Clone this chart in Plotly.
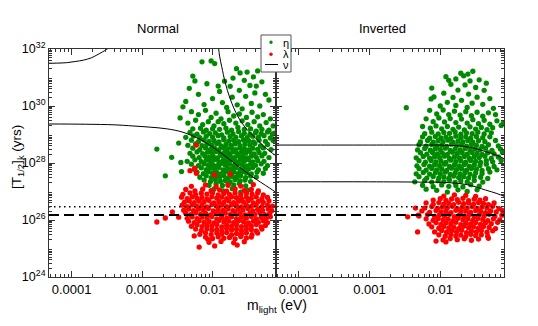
import numpy as np
import plotly.graph_objects as go

# ---------------- data (log10 m_light [eV], log10 T_1/2 [yrs]) ----------------
normal_eta = [
(-2.02,31.58),(-1.97,31.49),(-2.15,31.55),(-1.51,31.19),(-1.61,31.16),(-1.71,30.98),(-1.42,31.02),(-2.28,31.05),(-1.66,31.31),(-1.36,31.23),
(-1.55,30.90),(-1.83,30.87),(-1.47,30.72),(-1.75,30.69),(-2.08,30.78),(-2.33,30.62),(-1.30,30.85),(-1.62,30.55),(-1.90,30.51),(-2.20,30.41),
(-1.40,30.46),(-1.53,30.34),(-2.00,30.26),(-1.72,30.31),(-2.38,30.16),(-1.25,30.41),(-1.86,30.12),(-1.45,30.09),(-2.12,30.05),(-1.65,30.04),
(-1.33,30.00),(-2.42,29.97),(-1.20,30.21),(-1.58,29.90),(-1.80,29.95),(-1.92,30.70),(-1.38,30.70),(-2.25,30.88),
(-2.46,29.58),(-2.30,29.80),(-2.20,29.70),(-2.10,29.85),(-2.02,29.60),(-1.95,29.75),(-1.88,29.55),(-1.78,29.80),(-1.70,29.65),(-1.62,29.72),
(-1.52,29.60),(-1.44,29.78),(-1.36,29.62),(-1.28,29.70),(-1.18,29.55),(-2.35,29.40),(-2.24,29.50),(-2.14,29.35),(-2.06,29.45),(-1.98,29.30),
(-1.92,29.45),(-1.84,29.38),(-1.76,29.50),(-1.67,29.40),(-1.58,29.48),(-1.50,29.35),(-1.41,29.45),(-1.33,29.30),(-1.24,29.42),(-1.14,29.30),
(-2.28,29.20),(-2.17,29.22),(-2.09,29.15),(-2.00,29.20),(-1.90,29.18),(-1.81,29.22),(-1.73,29.15),(-1.64,29.25),(-1.55,29.18),(-1.46,29.20),
(-1.38,29.12),(-1.30,29.18),(-1.20,29.15),(-1.12,29.05),
(-2.32,29.07),(-2.22,29.01),(-2.13,29.09),(-2.04,29.03),(-1.96,29.06),(-1.87,28.99),(-1.79,29.08),(-1.71,29.02),(-1.63,29.10),(-1.55,29.04),
(-1.47,29.00),(-1.39,29.07),(-1.31,29.03),(-1.22,29.09),(-1.15,29.01),
(-2.38,28.90),(-2.27,28.95),(-2.18,28.89),(-2.09,28.94),(-2.00,28.91),(-1.92,28.96),(-1.84,28.88),(-1.75,28.93),(-1.67,28.90),(-1.59,28.95),
(-1.51,28.89),(-1.43,28.94),(-1.35,28.91),(-1.27,28.96),(-1.18,28.88),
(-2.30,28.80),(-2.20,28.75),(-2.12,28.81),(-2.05,28.76),(-1.98,28.79),(-1.91,28.74),(-1.84,28.82),(-1.77,28.77),(-1.70,28.80),(-1.63,28.75),
(-1.56,28.81),(-1.49,28.78),(-1.42,28.74),(-1.34,28.80),(-1.25,28.76),(-1.14,28.79),
(-2.35,28.62),(-2.24,28.67),(-2.15,28.61),(-2.08,28.66),(-2.01,28.63),(-1.94,28.68),(-1.88,28.60),(-1.81,28.65),(-1.74,28.62),(-1.68,28.67),
(-1.61,28.61),(-1.54,28.66),(-1.47,28.63),(-1.40,28.68),(-1.32,28.60),(-1.22,28.65),
(-2.28,28.52),(-2.18,28.47),(-2.10,28.53),(-2.03,28.48),(-1.97,28.51),(-1.91,28.46),(-1.85,28.54),(-1.79,28.49),(-1.73,28.52),(-1.67,28.47),
(-1.61,28.53),(-1.55,28.50),(-1.49,28.46),(-1.43,28.52),(-1.36,28.48),(-1.28,28.53),(-1.17,28.47),
(-2.32,28.34),(-2.22,28.39),(-2.14,28.33),(-2.07,28.38),(-2.01,28.35),(-1.95,28.40),(-1.89,28.32),(-1.83,28.37),(-1.77,28.34),(-1.71,28.39),
(-1.65,28.33),(-1.59,28.38),(-1.53,28.35),(-1.47,28.40),(-1.41,28.32),(-1.34,28.37),(-1.26,28.34),
(-2.28,28.24),(-2.19,28.19),(-2.11,28.25),(-2.05,28.20),(-1.99,28.23),(-1.93,28.18),(-1.87,28.26),(-1.81,28.21),(-1.75,28.24),(-1.69,28.19),
(-1.63,28.25),(-1.57,28.22),(-1.51,28.18),(-1.45,28.24),(-1.38,28.20),(-1.30,28.25),(-1.20,28.19),
(-2.36,28.06),(-2.25,28.11),(-2.16,28.05),(-2.09,28.10),(-2.03,28.07),(-1.97,28.12),(-1.91,28.04),(-1.85,28.09),(-1.79,28.06),(-1.73,28.11),
(-1.67,28.05),(-1.61,28.10),(-1.55,28.07),(-1.49,28.12),(-1.43,28.04),(-1.36,28.09),(-1.27,28.06),
(-2.30,27.96),(-2.20,27.91),(-2.12,27.97),(-2.06,27.92),(-2.00,27.95),(-1.94,27.90),(-1.88,27.98),(-1.82,27.93),(-1.76,27.96),(-1.70,27.91),
(-1.64,27.97),(-1.58,27.94),(-1.52,27.90),(-1.46,27.96),(-1.39,27.92),(-1.31,27.97),(-1.22,27.91),
(-2.26,27.78),(-2.16,27.83),(-2.09,27.77),(-2.03,27.82),(-1.97,27.79),(-1.91,27.84),(-1.85,27.76),(-1.79,27.81),(-1.73,27.78),(-1.67,27.83),
(-1.61,27.77),(-1.55,27.82),(-1.49,27.79),(-1.43,27.84),(-1.35,27.76),(-1.25,27.81),
(-2.22,27.68),(-2.13,27.63),(-2.06,27.69),(-2.00,27.64),(-1.94,27.67),(-1.88,27.62),(-1.82,27.70),(-1.76,27.65),(-1.70,27.68),(-1.64,27.63),
(-1.58,27.69),(-1.52,27.66),(-1.45,27.62),(-1.37,27.68),(-1.28,27.64),
(-2.18,27.50),(-2.09,27.55),(-2.02,27.49),(-1.96,27.54),(-1.90,27.51),(-1.84,27.56),(-1.78,27.48),(-1.72,27.53),(-1.66,27.50),(-1.60,27.55),
(-1.53,27.49),(-1.46,27.54),(-1.38,27.51),
(-2.12,27.40),(-2.03,27.35),(-1.96,27.41),(-1.89,27.36),(-1.82,27.39),(-1.75,27.34),(-1.68,27.42),(-1.61,27.37),(-1.54,27.40),(-1.46,27.35),
(-2.05,27.22),(-1.95,27.27),(-1.86,27.21),(-1.78,27.26),(-1.70,27.23),(-1.62,27.28),(-1.53,27.20),
(-1.98,27.08),(-1.85,27.02),(-1.72,27.10),(-1.60,26.98),(-1.50,27.05),
(-2.79,28.49),(-2.67,27.55),(-2.58,28.20),(-2.45,28.02),(-2.48,28.70),(-2.44,27.70),
]

normal_lambda = [
(-2.30,27.18),(-2.10,27.23),(-1.95,27.17),(-1.78,27.22),(-1.60,27.19),(-1.42,27.24),
(-2.38,27.07),(-2.25,27.02),(-2.14,27.08),(-2.02,27.03),(-1.90,27.06),(-1.80,27.01),(-1.68,27.09),(-1.55,27.04),(-1.45,27.07),(-1.35,27.02),
(-2.42,26.90),(-2.32,26.95),(-2.24,26.89),(-2.16,26.94),(-2.08,26.91),(-2.00,26.96),(-1.92,26.88),(-1.84,26.93),(-1.76,26.90),(-1.68,26.95),
(-1.60,26.89),(-1.52,26.94),(-1.44,26.91),(-1.36,26.96),(-1.28,26.88),
(-2.44,26.80),(-2.36,26.75),(-2.29,26.81),(-2.22,26.76),(-2.15,26.79),(-2.08,26.74),(-2.01,26.82),(-1.94,26.77),(-1.87,26.80),(-1.80,26.75),
(-1.73,26.81),(-1.66,26.78),(-1.59,26.74),(-1.52,26.80),(-1.45,26.76),(-1.38,26.81),(-1.30,26.75),(-1.22,26.79),
(-2.40,26.62),(-2.33,26.67),(-2.26,26.61),(-2.19,26.66),(-2.12,26.63),(-2.05,26.68),(-1.98,26.60),(-1.91,26.65),(-1.84,26.62),(-1.77,26.67),
(-1.70,26.61),(-1.63,26.66),(-1.56,26.63),(-1.49,26.68),(-1.42,26.60),(-1.35,26.65),(-1.28,26.62),(-1.20,26.67),
(-2.43,26.52),(-2.36,26.47),(-2.29,26.53),(-2.22,26.48),(-2.15,26.51),(-2.08,26.46),(-2.01,26.54),(-1.94,26.49),(-1.87,26.52),(-1.80,26.47),
(-1.73,26.53),(-1.66,26.50),(-1.59,26.46),(-1.52,26.52),(-1.45,26.48),(-1.38,26.53),(-1.30,26.47),(-1.22,26.51),(-1.15,26.49),
(-2.41,26.34),(-2.34,26.39),(-2.27,26.33),(-2.20,26.38),(-2.13,26.35),(-2.06,26.40),(-1.99,26.32),(-1.92,26.37),(-1.85,26.34),(-1.78,26.39),
(-1.71,26.33),(-1.64,26.38),(-1.57,26.35),(-1.50,26.40),(-1.43,26.32),(-1.36,26.37),(-1.29,26.34),(-1.21,26.39),(-1.16,26.33),
(-2.38,26.24),(-2.31,26.19),(-2.24,26.25),(-2.17,26.20),(-2.10,26.23),(-2.03,26.18),(-1.96,26.26),(-1.89,26.21),(-1.82,26.24),(-1.75,26.19),
(-1.68,26.25),(-1.61,26.22),(-1.54,26.18),(-1.47,26.24),(-1.40,26.20),(-1.33,26.25),(-1.26,26.19),(-1.19,26.23),
(-2.36,26.06),(-2.29,26.11),(-2.22,26.05),(-2.15,26.10),(-2.08,26.07),(-2.01,26.12),(-1.94,26.04),(-1.87,26.09),(-1.80,26.06),(-1.73,26.11),
(-1.66,26.05),(-1.59,26.10),(-1.52,26.07),(-1.45,26.12),(-1.38,26.04),(-1.31,26.09),(-1.24,26.06),(-1.18,26.11),
(-2.34,25.96),(-2.26,25.91),(-2.19,25.97),(-2.12,25.92),(-2.05,25.95),(-1.98,25.90),(-1.91,25.98),(-1.84,25.93),(-1.77,25.96),(-1.70,25.91),
(-1.63,25.97),(-1.56,25.94),(-1.49,25.90),(-1.42,25.96),(-1.35,25.92),(-1.28,25.97),(-1.22,25.91),
(-2.30,25.78),(-2.22,25.83),(-2.15,25.77),(-2.08,25.82),(-2.01,25.79),(-1.94,25.84),(-1.87,25.76),(-1.80,25.81),(-1.73,25.78),(-1.66,25.83),
(-1.59,25.77),(-1.52,25.82),(-1.45,25.79),(-1.38,25.84),(-1.31,25.76),(-1.25,25.81),
(-2.24,25.68),(-2.16,25.63),(-2.08,25.69),(-2.01,25.64),(-1.94,25.67),(-1.87,25.62),(-1.80,25.70),(-1.73,25.65),(-1.66,25.68),(-1.59,25.63),
(-1.52,25.69),(-1.45,25.66),(-1.38,25.62),(-1.30,25.68),
(-2.18,25.50),(-2.10,25.55),(-2.02,25.49),(-1.94,25.54),(-1.87,25.51),(-1.80,25.56),(-1.73,25.48),(-1.66,25.53),(-1.59,25.50),(-1.52,25.55),
(-1.44,25.49),(-1.36,25.54),
(-2.10,25.40),(-2.00,25.35),(-1.92,25.41),(-1.84,25.36),(-1.76,25.39),(-1.68,25.34),(-1.60,25.42),(-1.52,25.37),(-1.45,25.40),
(-2.05,25.22),(-1.88,25.25),(-1.70,25.20),(-1.55,25.24),
(-2.19,25.05),(-1.97,25.09),(-1.65,25.12),(-2.26,25.44),(-2.07,25.33),
(-2.79,25.93),(-2.67,26.07),(-2.57,26.28),(-2.48,26.10),
(-2.23,28.63),(-2.25,27.82),(-2.23,27.64),(-1.97,27.58),(-1.75,27.61),(-2.32,27.73),
]

inverted_eta = [
(-1.71,31.15),(-1.67,31.06),(-1.61,31.12),(-1.54,31.22),(-1.92,31.03),(-1.78,30.95),(-1.58,30.88),(-1.45,30.92),(-1.85,30.76),(-1.65,30.74),
(-1.50,30.65),(-2.12,30.63),(-1.75,30.56),(-1.38,30.55),(-1.95,30.45),(-1.60,30.42),(-2.09,30.32),(-2.13,30.25),(-1.82,30.30),(-1.48,30.31),
(-1.70,30.20),(-1.30,30.26),(-1.55,30.10),(-1.90,30.13),(-2.00,30.00),(-1.78,30.02),(-1.40,30.06),(-1.62,29.95),(-1.25,29.92),(-2.48,29.94),
(-1.11,29.40),(-1.35,30.80),(-1.88,30.90),
(-2.15,29.85),(-2.05,29.72),(-1.96,29.86),(-1.88,29.70),(-1.80,29.82),(-1.72,29.68),(-1.64,29.80),(-1.56,29.66),(-1.48,29.78),(-1.40,29.64),
(-1.32,29.76),(-1.22,29.70),(-2.20,29.55),(-2.10,29.45),(-2.02,29.58),(-1.94,29.44),(-1.86,29.56),(-1.78,29.42),(-1.70,29.54),(-1.62,29.40),
(-1.54,29.52),(-1.46,29.38),(-1.38,29.50),(-1.30,29.36),(-1.20,29.48),(-1.14,29.32),(-2.25,29.28),(-2.14,29.22),(-2.06,29.30),(-1.98,29.20),
(-1.90,29.28),(-1.82,29.18),(-1.74,29.26),(-1.66,29.16),(-1.58,29.27),(-1.50,29.19),(-1.42,29.25),(-1.34,29.17),(-1.26,29.24),
(-2.22,29.03),(-2.12,29.08),(-2.03,29.02),(-1.95,29.07),(-1.87,29.04),(-1.79,29.09),(-1.71,29.01),(-1.63,29.06),(-1.55,29.03),(-1.47,29.08),
(-1.38,29.02),(-1.28,29.06),
(-2.25,28.92),(-2.15,28.87),(-2.07,28.93),(-1.99,28.88),(-1.92,28.91),(-1.85,28.86),(-1.78,28.94),(-1.71,28.89),(-1.64,28.92),(-1.57,28.87),
(-1.49,28.93),(-1.40,28.89),(-1.30,28.92),
(-2.28,28.74),(-2.18,28.79),(-2.10,28.73),(-2.03,28.78),(-1.96,28.75),(-1.89,28.80),(-1.82,28.72),(-1.75,28.77),(-1.68,28.74),(-1.61,28.79),
(-1.54,28.73),(-1.46,28.78),(-1.37,28.75),(-1.22,28.79),
(-2.30,28.64),(-2.20,28.59),(-2.12,28.65),(-2.05,28.60),(-1.98,28.63),(-1.91,28.58),(-1.84,28.66),(-1.77,28.61),(-1.70,28.64),(-1.63,28.59),
(-1.56,28.65),(-1.49,28.62),(-1.41,28.58),(-1.32,28.64),(-1.18,28.60),
(-2.32,28.46),(-2.22,28.51),(-2.14,28.45),(-2.07,28.50),(-2.00,28.47),(-1.93,28.52),(-1.86,28.44),(-1.79,28.49),(-1.72,28.46),(-1.65,28.51),
(-1.58,28.45),(-1.51,28.50),(-1.44,28.47),(-1.36,28.52),(-1.27,28.44),(-1.15,28.49),
(-2.28,28.36),(-2.19,28.31),(-2.11,28.37),(-2.04,28.32),(-1.97,28.35),(-1.90,28.30),(-1.83,28.38),(-1.76,28.33),(-1.69,28.36),(-1.62,28.31),
(-1.55,28.37),(-1.48,28.34),(-1.41,28.30),(-1.33,28.36),(-1.24,28.32),(-1.12,28.37),
(-2.34,28.18),(-2.24,28.23),(-2.15,28.17),(-2.08,28.22),(-2.01,28.19),(-1.94,28.24),(-1.87,28.16),(-1.80,28.21),(-1.73,28.18),(-1.66,28.23),
(-1.59,28.17),(-1.52,28.22),(-1.45,28.19),(-1.37,28.24),(-1.28,28.16),(-1.18,28.21),
(-2.30,28.08),(-2.21,28.03),(-2.13,28.09),(-2.06,28.04),(-1.99,28.07),(-1.92,28.02),(-1.85,28.10),(-1.78,28.05),(-1.71,28.08),(-1.64,28.03),
(-1.57,28.09),(-1.50,28.06),(-1.43,28.02),(-1.35,28.08),(-1.26,28.04),(-1.14,28.09),
(-2.33,27.90),(-2.23,27.95),(-2.15,27.89),(-2.08,27.94),(-2.01,27.91),(-1.94,27.96),(-1.87,27.88),(-1.80,27.93),(-1.73,27.90),(-1.66,27.95),
(-1.59,27.89),(-1.52,27.94),(-1.44,27.91),(-1.35,27.96),(-1.24,27.88),
(-2.30,27.80),(-2.20,27.75),(-2.12,27.81),(-2.05,27.76),(-1.98,27.79),(-1.91,27.74),(-1.84,27.82),(-1.77,27.77),(-1.70,27.80),(-1.63,27.75),
(-1.56,27.81),(-1.49,27.78),(-1.41,27.74),(-1.32,27.80),(-1.20,27.76),
(-2.34,27.62),(-2.24,27.67),(-2.15,27.61),(-2.07,27.66),(-2.00,27.63),(-1.93,27.68),(-1.86,27.60),(-1.79,27.65),(-1.72,27.62),(-1.65,27.67),
(-1.58,27.61),(-1.50,27.66),(-1.41,27.63),(-1.30,27.68),
(-2.30,27.52),(-2.19,27.47),(-2.10,27.53),(-2.02,27.48),(-1.95,27.51),(-1.88,27.46),(-1.81,27.54),(-1.74,27.49),(-1.67,27.52),(-1.60,27.47),
(-1.52,27.53),(-1.43,27.50),(-1.33,27.46),
(-2.36,27.34),(-2.22,27.39),(-2.12,27.33),(-2.03,27.38),(-1.95,27.35),(-1.87,27.40),(-1.79,27.32),(-1.71,27.37),(-1.62,27.34),(-1.52,27.39),
(-1.40,27.33),
(-2.25,27.22),(-2.10,27.17),(-1.98,27.23),(-1.88,27.18),(-1.78,27.21),(-1.68,27.16),(-1.57,27.24),(-1.45,27.19),
(-2.05,27.04),(-1.90,26.98),(-1.75,27.06),(-1.62,27.00),(-2.20,27.08),(-1.48,27.06),
]

inverted_lambda = [
(-1.95,26.84),(-1.80,26.88),(-1.64,26.86),(-1.50,26.83),
(-2.10,26.70),(-2.00,26.75),(-1.92,26.69),(-1.84,26.74),(-1.76,26.71),(-1.68,26.76),(-1.60,26.68),(-1.52,26.73),(-1.44,26.70),(-1.36,26.75),
(-2.20,26.60),(-2.10,26.55),(-2.02,26.61),(-1.95,26.56),(-1.88,26.59),(-1.81,26.54),(-1.74,26.62),(-1.67,26.57),(-1.60,26.60),(-1.53,26.55),
(-1.46,26.61),(-1.39,26.58),(-1.32,26.54),(-1.24,26.60),
(-2.22,26.42),(-2.12,26.47),(-2.04,26.41),(-1.97,26.46),(-1.90,26.43),(-1.83,26.48),(-1.76,26.40),(-1.69,26.45),(-1.62,26.42),(-1.55,26.47),
(-1.48,26.41),(-1.41,26.46),(-1.34,26.43),(-1.26,26.48),(-1.17,26.40),
(-2.26,26.32),(-2.15,26.27),(-2.06,26.33),(-1.99,26.28),(-1.92,26.31),(-1.85,26.26),(-1.78,26.34),(-1.71,26.29),(-1.64,26.32),(-1.57,26.27),
(-1.50,26.33),(-1.43,26.30),(-1.36,26.26),(-1.29,26.32),(-1.21,26.28),(-1.12,26.33),
(-2.30,26.14),(-2.18,26.19),(-2.08,26.13),(-2.01,26.18),(-1.94,26.15),(-1.87,26.20),(-1.80,26.12),(-1.73,26.17),(-1.66,26.14),(-1.59,26.19),
(-1.52,26.13),(-1.45,26.18),(-1.38,26.15),(-1.31,26.20),(-1.23,26.12),(-1.13,26.17),
(-2.20,26.04),(-2.10,25.99),(-2.03,26.05),(-1.96,26.00),(-1.89,26.03),(-1.82,25.98),(-1.75,26.06),(-1.68,26.01),(-1.61,26.04),(-1.54,25.99),
(-1.47,26.05),(-1.40,26.02),(-1.33,25.98),(-1.25,26.04),(-1.16,26.00),
(-2.16,25.86),(-2.06,25.91),(-1.99,25.85),(-1.92,25.90),(-1.85,25.87),(-1.78,25.92),(-1.71,25.84),(-1.64,25.89),(-1.57,25.86),(-1.50,25.91),
(-1.43,25.85),(-1.36,25.90),(-1.28,25.87),(-1.19,25.92),
(-2.12,25.76),(-2.02,25.71),(-1.95,25.77),(-1.88,25.72),(-1.81,25.75),(-1.74,25.70),(-1.67,25.78),(-1.60,25.73),(-1.53,25.76),(-1.46,25.71),
(-1.39,25.77),(-1.31,25.74),(-1.22,25.70),
(-2.08,25.58),(-1.98,25.63),(-1.91,25.57),(-1.84,25.62),(-1.77,25.59),(-1.70,25.64),(-1.63,25.56),(-1.56,25.61),(-1.49,25.58),(-1.42,25.63),
(-1.34,25.57),(-1.26,25.62),
(-2.02,25.48),(-1.93,25.43),(-1.85,25.49),(-1.78,25.44),(-1.71,25.47),(-1.64,25.42),(-1.57,25.50),(-1.50,25.45),(-1.42,25.48),(-1.33,25.43),
(-1.96,25.30),(-1.86,25.35),(-1.76,25.31),(-1.66,25.34),(-1.56,25.29),(-1.46,25.33),(-1.32,25.36),
(-2.06,25.26),(-1.92,25.23),(-2.46,26.11),(-2.32,25.58),(-2.31,26.17),(-2.35,26.42),(-1.11,26.18),
]

# nu curves (log10 m, log10 T)
normal_nu_a = [(-4.32,31.50),(-4.20,31.505),(-4.07,31.52),(-3.95,31.56),(-3.83,31.61),(-3.72,31.69),(-3.64,31.79),(-3.56,31.90),(-3.50,31.99),(-3.46,32.06)]
normal_nu_b = [(-4.32,29.37),(-3.80,29.36),(-3.40,29.34),(-3.13,29.30),(-2.90,29.26),(-2.65,29.20),(-2.42,29.08),(-2.18,28.83),(-1.94,28.46),(-1.71,28.03),(-1.47,27.58),(-1.19,27.12),(-1.10,26.97)]
normal_nu_c = [(-1.915,32.05),(-1.90,31.75),(-1.87,31.38),(-1.82,30.82),(-1.75,30.25),(-1.64,29.63),(-1.52,29.20),(-1.40,28.90),(-1.28,28.60),(-1.19,28.42),(-1.10,28.25)]
inverted_nu_a = [(-4.32,28.63),(-3.00,28.63),(-2.30,28.63),(-1.88,28.62),(-1.60,28.56),(-1.36,28.40),(-1.20,28.27),(-1.09,28.14)]
inverted_nu_b = [(-4.32,27.34),(-3.00,27.34),(-2.30,27.33),(-1.88,27.31),(-1.60,27.23),(-1.36,27.05),(-1.20,26.93),(-1.09,26.82)]

bound_dotted = 2.9e26
bound_dashed = 1.5e26

x_range_log = [-4.32, -1.10]
y_range_log = [24, 32]
x_tick_vals = [1e-4, 1e-3, 1e-2]
x_tick_text = ["0.0001", "0.001", "0.01"]
y_label_exps = [24, 26, 28, 30, 32]
y_unlabelled_exps = [25, 27, 29, 31]
legend_labels = ["η", "λ", "ν"]

GREEN = "#008a00"
RED = "#ff0000"
FONT = "Liberation Sans, Arial, sans-serif"

# The page body has an 8 px margin, so the figure is drawn 8 px in from the
# window's top-left corner; plot area in window pixels: x 49..504, y 49..277.
OFF = 8
PL, PR, PT, PB = 49, 504, 49, 277


def px2x(px):
    return (px - PL) / (PR - PL)


def py2y(py):
    return (PB - py) / (PB - PT)


def xs(pts):
    return 10 ** np.array([p[0] for p in pts])


def ys(pts):
    return 10 ** np.array([p[1] for p in pts])


fig = go.Figure()

panels = [("x", "y", normal_eta, normal_lambda, [normal_nu_a, normal_nu_b, normal_nu_c]),
          ("x2", "y2", inverted_eta, inverted_lambda, [inverted_nu_a, inverted_nu_b])]

xr = [10 ** x_range_log[0], 10 ** x_range_log[1]]
for i, (xa, ya, eta, lam, nus) in enumerate(panels):
    fig.add_trace(go.Scatter(x=xs(eta), y=ys(eta), mode="markers", xaxis=xa, yaxis=ya,
                             marker=dict(color=GREEN, size=5.3, line=dict(width=0)),
                             name=legend_labels[0], showlegend=False))
    fig.add_trace(go.Scatter(x=xs(lam), y=ys(lam), mode="markers", xaxis=xa, yaxis=ya,
                             marker=dict(color=RED, size=5.3, line=dict(width=0)),
                             name=legend_labels[1], showlegend=False))
    for nu in nus:
        fig.add_trace(go.Scatter(x=xs(nu), y=ys(nu), mode="lines", xaxis=xa, yaxis=ya,
                                 line=dict(color="black", width=1, shape="spline"),
                                 name=legend_labels[2], showlegend=False))
    fig.add_trace(go.Scatter(x=xr, y=[bound_dotted] * 2, mode="lines", xaxis=xa, yaxis=ya,
                             line=dict(color="black", width=1.5, dash="1.5px,3.5px"), showlegend=False))
    fig.add_trace(go.Scatter(x=xr, y=[bound_dashed] * 2, mode="lines", xaxis=xa, yaxis=ya,
                             line=dict(color="black", width=2, dash="10px,5px"), showlegend=False))

minor_x = [m * 10.0 ** k for k in range(-5, -1) for m in range(2, 10)]
minor_y = [m * 10.0 ** k for k in range(24, 32) for m in range(2, 10)]

split = px2x(276)
axis_style = dict(ticks="inside", ticklen=6, tickwidth=1, tickcolor="#333", showline=True,
                  linecolor="#333", linewidth=1, mirror="allticks", showgrid=False, zeroline=False)
xcommon = dict(type="log", range=x_range_log, tickmode="array", tickvals=x_tick_vals, ticktext=x_tick_text,
               tickfont=dict(family=FONT, size=13, color="black"),
               minor=dict(tickvals=minor_x, ticks="inside", ticklen=3, tickcolor="#333", showgrid=False),
               **axis_style)
ycommon = dict(type="log", range=y_range_log, tickmode="array",
               tickvals=[10.0 ** e for e in y_label_exps],
               ticktext=[f"10<sup>{e}</sup>" for e in y_label_exps],
               tickfont=dict(family=FONT, size=12.5, color="black"),
               minor=dict(tickvals=minor_y, ticks="inside", ticklen=3, tickcolor="#333", showgrid=False),
               **axis_style)
# overlay axes carrying the long, unlabelled ticks at the odd decades
yodd = dict(type="log", range=y_range_log, tickmode="array",
            tickvals=[10.0 ** e for e in y_unlabelled_exps], showticklabels=False,
            ticks="inside", ticklen=6, tickwidth=1, tickcolor="#333", showline=True,
            linecolor="#333", linewidth=1, mirror="allticks", showgrid=False, zeroline=False)

# hand-placed legend box (small, as in the original figure)
shapes = [
    dict(type="rect", xref="paper", yref="paper", x0=px2x(261), x1=px2x(291), y0=py2y(72), y1=py2y(35),
         line=dict(color="#555", width=1), fillcolor="white", layer="above"),
    dict(type="circle", xref="paper", yref="paper", x0=px2x(269.3), x1=px2x(272.7), y0=py2y(44), y1=py2y(40.6),
         line=dict(width=0), fillcolor=GREEN, layer="above"),
    dict(type="circle", xref="paper", yref="paper", x0=px2x(269.3), x1=px2x(272.7), y0=py2y(56), y1=py2y(52.6),
         line=dict(width=0), fillcolor=RED, layer="above"),
    dict(type="line", xref="paper", yref="paper", x0=px2x(265), x1=px2x(278), y0=py2y(64.5), y1=py2y(64.5),
         line=dict(color="black", width=1), layer="above"),
]

annotations = [
    dict(text="Normal", x=px2x(158), y=py2y(28)),
    dict(text="Inverted", x=px2x(382), y=py2y(28)),
    dict(text="m<sub>light</sub> (eV)", x=px2x(277), y=py2y(306), font=dict(family=FONT, size=14, color="black")),
    dict(text="[T<sub>1/2</sub>]<sub>k</sub> (yrs)", x=px2x(17), y=py2y(157), textangle=-90,
         font=dict(family=FONT, size=13.5, color="black")),
    dict(text=legend_labels[0], x=px2x(281.5), y=py2y(42.5), xanchor="left", font=dict(family=FONT, size=11, color="black")),
    dict(text=legend_labels[1], x=px2x(281.5), y=py2y(54), xanchor="left", font=dict(family=FONT, size=11, color="black")),
    dict(text=legend_labels[2], x=px2x(281.5), y=py2y(64.5), xanchor="left", font=dict(family=FONT, size=11, color="black")),
]
for a in annotations:
    a.setdefault("xref", "paper")
    a.setdefault("yref", "paper")
    a.setdefault("showarrow", False)
    a.setdefault("xanchor", "center")
    a.setdefault("yanchor", "middle")
    a.setdefault("borderpad", 0)
    a.setdefault("font", dict(family=FONT, size=13, color="black"))

fig.update_layout(
    width=538 - OFF, height=326 - OFF,
    margin=dict(l=PL - OFF, r=538 - PR, t=PT - OFF, b=326 - PB, autoexpand=False),
    paper_bgcolor="white", plot_bgcolor="white",
    xaxis=dict(domain=[0, split], anchor="y", **xcommon),
    xaxis2=dict(domain=[split, 1], anchor="y2", **xcommon),
    yaxis=dict(anchor="x", **ycommon),
    yaxis2=dict(anchor="x2", showticklabels=False, **ycommon),
    yaxis3=dict(anchor="x", overlaying="y", side="left", **yodd),
    yaxis4=dict(anchor="x2", overlaying="y2", side="left", **yodd),
    font=dict(family=FONT, size=13, color="black"),
    showlegend=False,
    shapes=shapes,
    annotations=annotations,
)

fig.write_html("out.html")
